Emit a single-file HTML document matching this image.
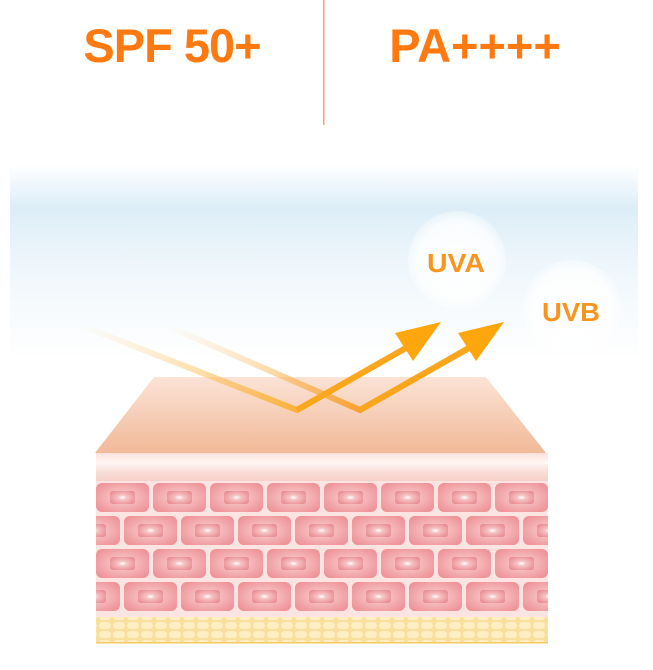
<!DOCTYPE html>
<html><head><style>
html,body{margin:0;padding:0;background:#fff;}
svg{display:block;}
</style></head><body>
<svg width="653" height="670" viewBox="0 0 653 670" xmlns="http://www.w3.org/2000/svg">
<defs>
<linearGradient id="sky" x1="0" y1="0" x2="0" y2="1">
<stop offset="0" stop-color="#fff"/>
<stop offset="0.22" stop-color="#dcedf7"/>
<stop offset="0.5" stop-color="#eef6fb"/>
<stop offset="1" stop-color="#fff"/>
</linearGradient>
<linearGradient id="top" x1="0" y1="0" x2="0" y2="1">
<stop offset="0" stop-color="#fbe3d6"/>
<stop offset="1" stop-color="#f1b998"/>
</linearGradient>
<linearGradient id="band" x1="0" y1="0" x2="0" y2="1">
<stop offset="0" stop-color="#fbe1dc"/>
<stop offset="0.35" stop-color="#fff6f4"/>
<stop offset="0.7" stop-color="#f9dcd6"/>
<stop offset="1" stop-color="#f6d0c8"/>
</linearGradient>
<radialGradient id="cell" cx="0.5" cy="0.5" r="0.6">
<stop offset="0" stop-color="#fbd4d4"/>
<stop offset="1" stop-color="#ee9499"/>
</radialGradient>
<radialGradient id="nuc" cx="0.5" cy="0.5" r="0.6">
<stop offset="0" stop-color="#fff"/>
<stop offset="0.3" stop-color="#f7c3c4"/>
<stop offset="1" stop-color="#e88c92"/>
</radialGradient>
<radialGradient id="bub" cx="0.5" cy="0.5" r="0.5">
<stop offset="0" stop-color="#fff" stop-opacity="0.95"/>
<stop offset="0.8" stop-color="#fff" stop-opacity="0.8"/>
<stop offset="1" stop-color="#fff" stop-opacity="0.3"/>
</radialGradient>
<linearGradient id="ray1" gradientUnits="userSpaceOnUse" x1="80" y1="325" x2="297" y2="410">
<stop offset="0" stop-color="#fcd89a" stop-opacity="0"/>
<stop offset="1" stop-color="#fbb13a"/>
</linearGradient>
<linearGradient id="ray2" gradientUnits="userSpaceOnUse" x1="165" y1="325" x2="360" y2="410">
<stop offset="0" stop-color="#fcd89a" stop-opacity="0"/>
<stop offset="1" stop-color="#f9a030"/>
</linearGradient>
<clipPath id="skin"><rect x="96" y="481" width="452" height="135"/></clipPath>
<pattern id="fat" width="14" height="9" patternUnits="userSpaceOnUse">
<rect width="14" height="9" fill="#f8df9e"/>
<rect x="1" y="1" width="12" height="7" rx="3.5" fill="#fdefc3"/>
</pattern>
</defs>

<text x="172" y="62" text-anchor="middle" font-family="Liberation Sans, sans-serif" font-weight="bold" font-size="47" fill="#fe7a10" letter-spacing="-1">SPF 50+</text>
<text x="475" y="62" text-anchor="middle" font-family="Liberation Sans, sans-serif" font-weight="bold" font-size="47" fill="#fe7a10">PA++++</text>
<rect x="323" y="0" width="1.5" height="125" fill="#f08a4a" opacity="0.8"/>

<rect x="10" y="165" width="628" height="195" fill="url(#sky)"/>

<circle cx="457" cy="260" r="49" fill="url(#bub)"/>
<circle cx="572" cy="309" r="49" fill="url(#bub)"/>
<text x="456" y="272" text-anchor="middle" font-family="Liberation Sans, sans-serif" font-weight="bold" font-size="26" fill="#f7951e" textLength="58" lengthAdjust="spacingAndGlyphs">UVA</text>
<text x="571" y="321" text-anchor="middle" font-family="Liberation Sans, sans-serif" font-weight="bold" font-size="26" fill="#f7951e" textLength="58" lengthAdjust="spacingAndGlyphs">UVB</text>

<polygon points="154,377 486,377 546,453 95,453" fill="url(#top)"/>
<rect x="96" y="453" width="452" height="28" fill="url(#band)"/>
<rect x="96" y="481" width="452" height="136" fill="#fbe4e2"/>
<g clip-path="url(#skin)">
<g id="r1">
<g transform="translate(96,483)"><rect width="53" height="29" rx="6" fill="url(#cell)"/><rect x="14" y="8" width="25" height="13" rx="3" fill="url(#nuc)"/></g>
<g transform="translate(153,483)"><rect width="53" height="29" rx="6" fill="url(#cell)"/><rect x="14" y="8" width="25" height="13" rx="3" fill="url(#nuc)"/></g>
<g transform="translate(210,483)"><rect width="53" height="29" rx="6" fill="url(#cell)"/><rect x="14" y="8" width="25" height="13" rx="3" fill="url(#nuc)"/></g>
<g transform="translate(267,483)"><rect width="53" height="29" rx="6" fill="url(#cell)"/><rect x="14" y="8" width="25" height="13" rx="3" fill="url(#nuc)"/></g>
<g transform="translate(324,483)"><rect width="53" height="29" rx="6" fill="url(#cell)"/><rect x="14" y="8" width="25" height="13" rx="3" fill="url(#nuc)"/></g>
<g transform="translate(381,483)"><rect width="53" height="29" rx="6" fill="url(#cell)"/><rect x="14" y="8" width="25" height="13" rx="3" fill="url(#nuc)"/></g>
<g transform="translate(438,483)"><rect width="53" height="29" rx="6" fill="url(#cell)"/><rect x="14" y="8" width="25" height="13" rx="3" fill="url(#nuc)"/></g>
<g transform="translate(495,483)"><rect width="53" height="29" rx="6" fill="url(#cell)"/><rect x="14" y="8" width="25" height="13" rx="3" fill="url(#nuc)"/></g>
</g>
<use href="#r1" transform="translate(-29,33)"/>
<use href="#r1" transform="translate(28,33)"/>
<use href="#r1" transform="translate(0,66)"/>
<use href="#r1" transform="translate(-29,99)"/>
<use href="#r1" transform="translate(28,99)"/>
</g>
<rect x="96" y="617" width="452" height="26" fill="url(#fat)"/>
<rect x="96" y="642" width="452" height="1.5" fill="#f5c86a"/>

<polyline points="80,325 297,410 420,340" fill="none" stroke="url(#ray1)" stroke-width="6"/>
<polyline points="165,325 360,410 483,340" fill="none" stroke="url(#ray2)" stroke-width="6"/>
<line x1="297" y1="410" x2="420" y2="340" stroke="#fba71a" stroke-width="6" opacity="0.9"/>
<line x1="360" y1="410" x2="483" y2="340" stroke="#fba71a" stroke-width="6" opacity="0.9"/>
<polygon points="441,322 395,333 413,361" fill="#fda60e"/>
<polygon points="504,322 458,333 476,361" fill="#fda60e"/>
</svg>
</body></html>
